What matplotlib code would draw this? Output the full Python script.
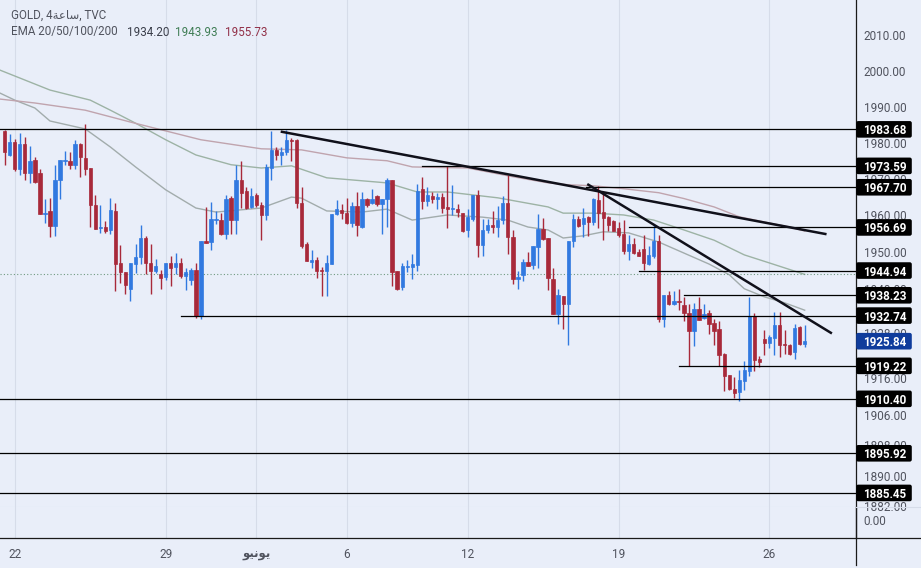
import matplotlib
matplotlib.use("Agg")
import matplotlib.pyplot as plt
from matplotlib.patches import FancyBboxPatch
from matplotlib.lines import Line2D
from matplotlib.transforms import IdentityTransform

# 4h candles
opens = [1983.1,1976.7,1980.3,1972.8,1979.7,1971.5,1975.1,1971.5,1960.3,1961.1,
         1957.1,1969.7,1974.8,1975.0,1973.7,1979.7,1975.8,1972.9,1962.7,1956.5,
         1956.7,1956.0,1961.1,1946.9,1944.6,1939.8,1946.7,1948.5,1953.7,1947.1,
         1944.7,1943.9,1943.1,1947.1,1945.8,1946.9,1943.4,1942.3,1945.2,1932.7,
         1953.1,1952.7,1958.7,1958.7,1954.8,1964.7,1958.7,1969.8,1966.6,1962.4,
         1965.7,1962.9,1960.1,1973.0,1978.0,1976.7,1977.3,1980.6,1980.6,1963.5,
         1952.1,1947.2,1947.8,1945.0,1944.8,1946.7,1960.3,1961.4,1960.7,1957.8,
         1962.5,1956.9,1964.6,1963.5,1965.3,1963.0,1964.4,1969.8,1944.8,1940.4,
         1945.9,1945.9,1946.4,1967.1,1963.8,1965.3,1964.6,1965.0,1962.2,1961.7,
         1961.7,1960.6,1955.9,1958.9,1965.5,1951.8,1955.9,1957.3,1956.8,1958.7,
         1963.3,1954.2,1942.7,1943.8,1947.2,1946.5,1951.4,1956.2,1953.9,1942.6,
         1933.3,1938.0,1935.9,1952.9,1958.9,1957.5,1959.5,1958.2,1964.3,1961.0,
         1959.5,1958.4,1956.5,1954.8,1950.2,1952.1,1949.9,1950.8,1946.8,1948.8,
         1952.9,1931.8,1938.3,1935.9,1936.7,1935.6,1933.4,1928.5,1934.5,1932.2,
         1933.4,1930.7,1929.1,1922.3,1916.7,1913.1,1912.1,1915.1,1917.8,1932.7,
         1921.0,1926.4,1925.4,1926.7,1930.2,1925.0,1924.8,1922.9,1929.6,1925.0]
closes = [1977.3,1980.3,1972.8,1979.7,1971.5,1974.8,1969.1,1960.3,1960.7,1957.1,
          1969.8,1975.1,1975.2,1973.7,1979.7,1975.9,1972.6,1962.7,1956.2,1956.7,
          1955.8,1961.4,1946.7,1944.5,1940.9,1946.9,1948.7,1953.7,1947.1,1944.8,
          1946.3,1942.8,1947.1,1945.6,1946.9,1943.4,1944.5,1945.2,1932.7,1953.1,
          1952.5,1958.9,1959.1,1954.8,1964.6,1958.7,1969.8,1966.0,1962.1,1965.3,
          1962.7,1960.0,1973.3,1978.0,1976.7,1977.4,1980.8,1980.4,1963.3,1951.7,
          1947.5,1947.8,1944.9,1944.9,1946.9,1960.3,1961.8,1960.6,1957.8,1962.5,
          1957.3,1964.6,1962.7,1964.6,1963.0,1964.6,1969.6,1944.6,1939.9,1946.2,
          1946.2,1946.7,1966.7,1963.9,1965.5,1964.4,1965.0,1962.0,1961.7,1962.0,
          1960.8,1955.8,1959.5,1965.6,1951.8,1955.9,1957.3,1956.8,1958.7,1963.3,
          1954.0,1942.6,1943.3,1947.2,1946.3,1951.5,1956.2,1953.5,1942.9,1933.3,
          1938.2,1935.9,1952.9,1959.0,1957.1,1959.4,1958.2,1964.5,1960.7,1959.2,
          1957.3,1955.8,1954.6,1950.2,1952.1,1949.7,1949.0,1946.9,1949.1,1952.9,
          1931.8,1938.3,1935.9,1936.7,1936.5,1933.4,1928.5,1934.5,1931.6,1933.3,
          1930.4,1928.7,1922.0,1916.4,1913.1,1911.9,1915.3,1918.0,1932.7,1920.8,
          1920.2,1925.3,1926.9,1930.2,1924.7,1924.7,1922.3,1929.3,1925.0,1926.0]
highs = [1983.5,1982.4,1981.0,1982.8,1981.5,1979.1,1976.0,1972.8,1964.6,1964.8,
         1973.7,1975.3,1977.8,1977.4,1980.8,1980.0,1985.3,1973.0,1965.5,1962.7,
         1958.4,1964.8,1963.3,1951.8,1944.6,1947.1,1952.1,1957.4,1954.3,1952.1,
         1948.0,1945.2,1947.1,1948.9,1949.8,1948.3,1945.7,1945.7,1946.9,1953.1,
         1962.4,1963.7,1961.2,1960.7,1965.7,1965.3,1973.9,1974.9,1967.8,1967.6,
         1966.2,1963.6,1974.2,1983.2,1978.7,1978.9,1983.5,1981.2,1981.0,1967.8,
         1952.6,1950.5,1948.5,1946.0,1949.1,1960.3,1964.1,1963.0,1964.8,1963.7,
         1966.5,1966.5,1964.7,1967.1,1965.7,1964.6,1970.3,1969.8,1944.9,1946.9,
         1947.8,1949.4,1968.6,1970.6,1967.8,1966.5,1966.2,1966.2,1973.5,1968.2,
         1963.0,1960.7,1961.7,1965.7,1966.9,1958.9,1958.9,1961.1,1962.6,1965.3,
         1971.2,1955.9,1944.7,1948.0,1949.9,1951.7,1960.5,1959.4,1953.9,1945.5,
         1940.0,1938.0,1952.9,1960.3,1959.8,1962.1,1959.8,1964.8,1968.1,1966.3,
         1959.8,1958.7,1958.2,1958.7,1954.6,1953.7,1950.8,1954.6,1951.5,1957.3,
         1954.6,1938.3,1939.5,1939.5,1939.9,1937.7,1935.9,1936.1,1937.9,1935.9,
         1934.3,1931.8,1931.2,1922.8,1916.7,1916.3,1918.2,1920.5,1937.7,1933.4,
         1921.9,1928.8,1927.5,1933.6,1933.6,1928.8,1925.0,1930.6,1929.8,1930.2]
lows = [1973.9,1976.2,1972.1,1971.2,1969.8,1968.9,1968.9,1960.3,1957.8,1954.1,
        1954.3,1964.4,1973.9,1972.8,1972.6,1970.5,1971.2,1956.8,1956.2,1955.1,
        1955.1,1954.8,1939.3,1941.6,1938.7,1936.8,1944.3,1946.6,1944.1,1938.7,
        1944.3,1940.0,1942.5,1940.7,1944.1,1942.8,1939.6,1940.9,1932.0,1931.8,
        1952.5,1950.5,1957.5,1954.5,1953.6,1954.8,1954.8,1962.1,1961.6,1961.9,
        1962.4,1953.3,1958.7,1969.8,1975.3,1973.9,1976.7,1974.8,1961.9,1951.2,
        1947.5,1945.6,1942.9,1938.0,1938.0,1946.7,1960.0,1958.9,1957.6,1956.8,
        1954.4,1956.5,1962.3,1963.0,1962.6,1955.0,1956.9,1940.8,1939.6,1939.7,
        1944.6,1942.6,1944.9,1961.7,1962.6,1963.5,1961.8,1960.6,1956.5,1960.0,
        1959.6,1955.5,1954.2,1958.5,1948.7,1948.9,1955.1,1955.3,1954.2,1957.6,
        1949.4,1941.4,1940.0,1942.1,1946.2,1945.3,1945.5,1953.3,1939.7,1933.1,
        1930.6,1929.0,1924.9,1951.4,1956.7,1954.1,1954.4,1957.4,1956.5,1953.3,
        1955.6,1955.6,1954.1,1949.4,1947.9,1949.4,1948.8,1945.2,1946.5,1948.3,
        1931.1,1929.7,1935.6,1935.6,1934.3,1931.3,1919.1,1924.6,1931.5,1931.8,
        1927.8,1924.8,1919.1,1912.6,1912.8,1910.6,1909.9,1912.8,1916.4,1917.8,
        1919.0,1922.0,1924.0,1922.0,1921.6,1922.3,1922.0,1921.0,1924.9,1924.3]

# moving averages, sampled at bar positions
ema_fast_bars = [-1,2,6,9,16,21,26,32,38,42,51,57,59,64,71,76,81,88,95,100,104,108,
                 111,115,119,124,130,135,140,144,147,151,155,159]
ema_fast = [1993.8,1991.8,1989.6,1986.0,1983.8,1978.8,1973.3,1967.0,1962.0,1960.9,1962.0,
            1965.0,1964.7,1961.2,1960.9,1961.7,1958.7,1960.1,1959.5,1958.7,1956.8,1956.0,
            1953.8,1954.4,1955.5,1955.2,1952.7,1949.7,1946.7,1943.8,1940.0,1937.8,1936.2,1934.2]
ema_mid_bars = [-1,4,9,17,21,26,32,38,45,51,57,64,76,82,88,98,108,111,117,123,129,135,
                141,147,152,159]
ema_mid = [2000.2,1997.4,1994.6,1991.8,1989.0,1985.4,1980.8,1976.6,1973.9,1973.0,1973.6,
           1970.3,1968.9,1966.4,1966.4,1964.8,1962.3,1960.6,1960.6,1960.1,1958.7,1956.0,
           1953.2,1949.2,1947.0,1943.9]
ema_slow_bars = [-1,6,16,25,39,51,59,68,76,81,92,101,108,112,117,123,130,135,141,146,152,
                 156,159]
ema_slow = [1992.1,1991.0,1989.0,1985.7,1980.8,1978.3,1978.0,1975.8,1975.0,1973.3,1973.0,
            1970.6,1968.9,1968.4,1968.1,1967.3,1966.2,1964.6,1962.3,1959.6,1957.9,1956.8,1955.7]

# horizontal levels drawn on the chart: price, first bar
levels = [1983.68, 1973.59, 1967.70, 1956.69, 1944.94, 1938.23, 1932.74, 1919.22,
          1910.40, 1895.92, 1885.45]
level_starts = [-1, 83, 115.6, 124, 126, 135, 35, 134, -1, -1, -1]

trend_a_bars = [55.1, 163.1]
trend_a_prices = [1983.0, 1954.9]
trend_b_bars = [116, 164.2]
trend_b_prices = [1968.4, 1928.1]

last_price = 1925.84
ema_line_price = 1943.93

price_ticks = [2010, 2000, 1990, 1980, 1970, 1960, 1950, 1940, 1928, 1916, 1906, 1898, 1890, 1882]
date_bars = [2, 32, 50, 68, 92, 122, 152]
date_labels = ["22", "29", "\uFEEE\uFEF4\uFEE7\uFEEE\uFEF3", "6", "12", "19", "26"]

W, H = 921, 568
BG = "#e9eef9"
GRID = "#d6dce9"
TXT = "#50535e"
UP = "#3179e0"
DOWN = "#a8293a"
FONT = ["Roboto", "DejaVu Sans"]
plt.rcParams["font.family"] = FONT

fig = plt.figure(figsize=(W / 100, H / 100), dpi=100, facecolor=BG)
ax = fig.add_axes([0, 1 - 507 / H, 856 / W, 507 / H], facecolor=BG)
low = fig.add_axes([0, 1 - 538 / H, 856 / W, 31 / H], facecolor=BG, sharex=ax)

ax.set_yscale("log")
ax.set_ylim(1881.75, 2019.85)
ax.set_xlim(-0.934, 169.2)

for b in date_bars:
    ax.axvline(b, color=GRID, lw=0.8, zorder=1)
    low.axvline(b, color=GRID, lw=0.8, zorder=1)

# candles
bars = list(range(len(opens)))
colors = [UP if c >= o else DOWN for o, c in zip(opens, closes)]
ax.vlines(bars, lows, highs, colors=colors, lw=1.0, zorder=3)
ax.bar(bars, [abs(c - o) for o, c in zip(opens, closes)],
       bottom=[min(o, c) for o, c in zip(opens, closes)],
       width=0.66, color=colors, edgecolor=colors, lw=0.5, zorder=3)

# emas
ax.plot(ema_fast_bars, ema_fast, color="#a2acac", lw=1.0, zorder=2)
ax.plot(ema_mid_bars, ema_mid, color="#9db3a5", lw=1.0, zorder=2)
ax.plot(ema_slow_bars, ema_slow, color="#c0a4ae", lw=1.0, zorder=2)
ax.axhline(ema_line_price, color="#6f9a80", lw=0.8, ls=(0, (1, 2)), zorder=2)

# levels and trend lines
for price, start in zip(levels, level_starts):
    ax.plot([start, 169.2], [price, price], color="black", lw=0.9, zorder=4)
ax.plot(trend_a_bars, trend_a_prices, color="#10101a", lw=1.8, zorder=4)
ax.plot(trend_b_bars, trend_b_prices, color="#10101a", lw=1.8, zorder=4)

# price scale
ax.yaxis.tick_right()
ax.set_yticks(price_ticks)
ax.set_yticklabels(["%.2f" % t for t in price_ticks])
ax.minorticks_off()
ax.tick_params(axis="y", length=0, pad=5.5, labelsize=8.5, labelcolor=TXT)
ax.tick_params(axis="x", length=0, labelbottom=False)
for s in ["top", "left"]:
    ax.spines[s].set_visible(False)
ax.spines["right"].set_color("#1a1a1a")
ax.spines["right"].set_linewidth(0.9)
ax.spines["bottom"].set_color(GRID)
ax.spines["bottom"].set_linewidth(0.8)

# lower pane
low.set_ylim(-1.4, 1)
low.yaxis.tick_right()
low.set_yticks([0])
low.set_yticklabels(["0.00"])
low.tick_params(axis="y", length=0, pad=5.5, labelsize=8.5, labelcolor=TXT)
low.set_xticks(date_bars)
low.set_xticklabels(date_labels)
low.tick_params(axis="x", length=0, pad=7, labelsize=8.5, labelcolor=TXT)
low.get_xticklabels()[2].set_fontweight("bold")
low.get_xticklabels()[2].set_family(["DejaVu Sans"])
for s in ["top", "left"]:
    low.spines[s].set_visible(False)
low.spines["right"].set_color("#1a1a1a")
low.spines["right"].set_linewidth(0.9)
low.spines["bottom"].set_visible(False)

# axis lines that run past the panes
fig.add_artist(Line2D([0, W], [H - 538, H - 538], color="#1a1a1a", lw=0.9, transform=IdentityTransform()))
fig.add_artist(Line2D([856, 856], [3, H - 507], color="#1a1a1a", lw=0.9, transform=IdentityTransform()))
fig.add_artist(Line2D([856, W], [H - 507, H - 507], color=GRID, lw=0.8, transform=IdentityTransform()))

# price labels on the scale
def price_box(price, face):
    y = ax.transData.transform((0, price))[1]
    fig.add_artist(FancyBboxPatch((857.5, y - 7), 53, 14, boxstyle="round,pad=1.3,rounding_size=2",
                                  fc=face, ec="none", transform=IdentityTransform(), zorder=5))
    fig.text(884.5 / W, y / H, "%.2f" % price, color="white", fontsize=8.4, fontweight="bold",
             ha="center", va="center_baseline", zorder=6)

for price in levels:
    price_box(price, "black")
price_box(last_price, "#0f3c9c")

# legend text
fig.text(11 / W, 1 - 15.5 / H, "GOLD, 4\uFE94\uFECB\uFE8E\uFEB3, TVC", color=TXT, fontsize=8.4, va="center")
fig.text(11 / W, 1 - 32 / H, "EMA 20/50/100/200", color=TXT, fontsize=8.4, va="center")
fig.text(127 / W, 1 - 32 / H, "1934.20", color="#3a3e4a", fontsize=8.4, va="center")
fig.text(175 / W, 1 - 32 / H, "1943.93", color="#3f7d55", fontsize=8.4, va="center")
fig.text(225 / W, 1 - 32 / H, "1955.73", color="#923048", fontsize=8.4, va="center")

fig.savefig("out.png", dpi=100, facecolor=BG)
